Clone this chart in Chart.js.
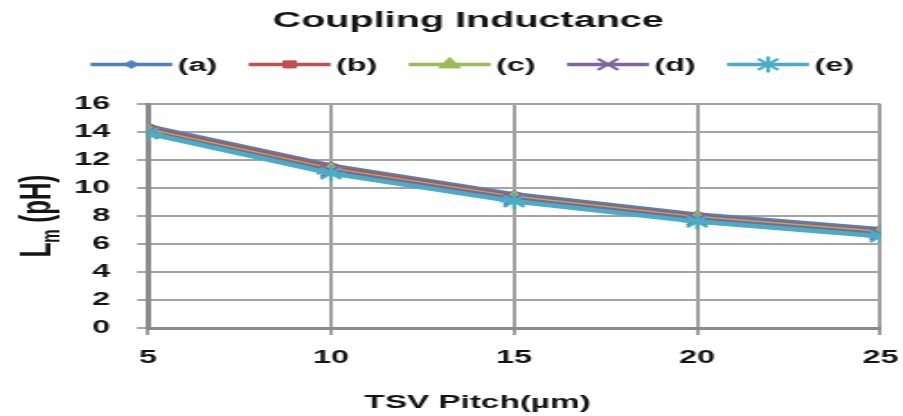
<!DOCTYPE html>
<html>
<head>
<meta charset="utf-8">
<script src="https://cdn.jsdelivr.net/npm/chart.js@4.4.1/dist/chart.umd.min.js"></script>
<style>
  html, body { margin: 0; padding: 0; background: #fff; overflow: hidden; }
  #c { display: block; width: 903px; height: 416px; }
</style>
</head>
<body>
<canvas id="c" width="502" height="416" style="width:903px;height:416px"></canvas>
<script>
// TSV pitch (µm) on the x axis
const pitch = [5, 10, 15, 20, 25];

// Coupling inductance Lm (pH) for each structure
const seriesA = [14.4, 11.6, 9.55, 8.1, 7.05];
const seriesB = [14.25, 11.45, 9.4, 7.95, 6.9];
const seriesC = [14.1, 11.3, 9.3, 7.85, 6.8];
const seriesD = [14.0, 11.2, 9.2, 7.75, 6.7];
const seriesE = [13.9, 11.05, 9.05, 7.6, 6.55];

const seriesNames = ['(a)', '(b)', '(c)', '(d)', '(e)'];
const xTicks = [5, 10, 15, 20, 25];
const yTicks = [0, 2, 4, 6, 8, 10, 12, 14, 16];

const chartTitle = 'Coupling Inductance';
const xTitle = 'TSV Pitch(\u00b5m)';

// styling
const colors = ['#4F81BD', '#C0504D', '#9BBB59', '#8064A2', '#4BACC6'];
const markers = ['rectRot', 'rect', 'triangle', 'crossRot', 'star'];
const markerRadius = [4, 5, 7, 8, 8];
const markerBorder = [1, 1, 1, 2.2, 2.2];
const FONT = "'Liberation Sans', Arial, sans-serif";
const INK = '#141414';

const allSeries = [seriesA, seriesB, seriesC, seriesD, seriesE];

const datasets = allSeries.map((vals, i) => ({
  label: seriesNames[i],
  data: vals.map((v, k) => ({ x: pitch[k], y: v })),
  borderColor: colors[i],
  backgroundColor: colors[i],
  borderWidth: 4.5,
  pointStyle: markers[i],
  pointRadius: markerRadius[i],
  pointBorderWidth: markerBorder[i],
  pointBackgroundColor: colors[i],
  pointBorderColor: colors[i],
  tension: 0,
  order: allSeries.length - i   // later series sit on top
}));

function capText(ctx, text, x, capCenterY, size, align) {
  ctx.font = 'bold ' + size + 'px ' + FONT;
  ctx.textAlign = align || 'center';
  ctx.textBaseline = 'alphabetic';
  ctx.fillText(text, x, capCenterY + 0.716 * size / 2);
}

function drawMarker(ctx, i, x, y) {
  ctx.save();
  ctx.fillStyle = colors[i];
  ctx.strokeStyle = colors[i];
  ctx.lineWidth = markerBorder[i];
  if (Chart.helpers && Chart.helpers.drawPoint) {
    Chart.helpers.drawPoint(ctx, {
      pointStyle: markers[i], rotation: 0,
      radius: markerRadius[i], borderWidth: markerBorder[i]
    }, x, y);
  } else {
    ctx.beginPath(); ctx.arc(x, y, markerRadius[i] * 0.7, 0, Math.PI * 2); ctx.fill();
  }
  ctx.restore();
}

const annotations = {
  id: 'annotations',
  afterDraw(chart) {
    const ctx = chart.ctx;
    const area = chart.chartArea;
    ctx.save();
    ctx.fillStyle = INK;

    // chart title
    capText(ctx, chartTitle, 260.3, 18.7, 22);

    // legend row: line, marker, label
    const lineLen = 45.5, textGap = 3, itemGap = 17.5, legY = 64.4;
    ctx.font = 'bold 18px ' + FONT;
    const widths = seriesNames.map(n => ctx.measureText(n).width);
    let total = 0;
    widths.forEach((w, i) => { total += lineLen + textGap + w + (i < widths.length - 1 ? itemGap : 0); });
    let x = 262.5 - total / 2;
    seriesNames.forEach((n, i) => {
      ctx.save();
      ctx.strokeStyle = colors[i];
      ctx.lineWidth = 3.5;
      ctx.beginPath();
      ctx.moveTo(x, legY);
      ctx.lineTo(x + lineLen, legY);
      ctx.stroke();
      ctx.restore();
      drawMarker(ctx, i, x + lineLen / 2, legY);
      ctx.fillStyle = INK;
      capText(ctx, n, x + lineLen + textGap, legY, 18, 'left');
      x += lineLen + textGap + widths[i] + itemGap;
    });

    // x axis title
    capText(ctx, xTitle, 265.5, 401, 18.5);

    // y axis title: L with subscript m, then (pH), rotated
    const big = 24, small = 15;
    ctx.font = 'bold ' + big + 'px ' + FONT;
    const wL = ctx.measureText('L').width;
    const wRest = ctx.measureText(' (pH)').width;
    ctx.font = 'bold ' + small + 'px ' + FONT;
    const wM = ctx.measureText('m').width;
    const len = wL + wM + wRest;
    const cy = (area.top + area.bottom) / 2;
    ctx.translate(27.8, cy + len / 2);
    ctx.rotate(-Math.PI / 2);
    ctx.textAlign = 'left';
    ctx.textBaseline = 'alphabetic';
    ctx.font = 'bold ' + big + 'px ' + FONT;
    ctx.fillText('L', 0, 0);
    ctx.font = 'bold ' + small + 'px ' + FONT;
    ctx.fillText('m', wL, 5);
    ctx.font = 'bold ' + big + 'px ' + FONT;
    ctx.fillText(' (pH)', wL + wM, 0);
    ctx.restore();
  }
};

new Chart(document.getElementById('c'), {
  type: 'line',
  data: { datasets },
  plugins: [annotations],
  options: {
    responsive: false,
    devicePixelRatio: 1,
    animation: false,
    events: [],
    layout: { padding: { top: 104, right: 12.6, bottom: 0, left: 0 } },
    plugins: {
      legend: { display: false },
      title: { display: false },
      tooltip: { enabled: false }
    },
    scales: {
      x: {
        type: 'linear',
        min: 5,
        max: 25,
        afterBuildTicks: s => { s.ticks = xTicks.map(v => ({ value: v })); },
        afterFit: s => { s.height = 88; s.paddingLeft = 0; s.paddingRight = 0; },
        grid: { color: '#9e9e9e', lineWidth: 2, tickLength: 7, drawTicks: true },
        border: { color: '#8a8a8a', width: 3 },
        ticks: {
          padding: 12,
          color: INK,
          font: { family: FONT, size: 18, weight: 'bold' },
          maxRotation: 0
        }
      },
      y: {
        min: 0,
        max: 16,
        afterBuildTicks: s => { s.ticks = yTicks.map(v => ({ value: v })); },
        afterFit: s => { s.width = 82.2; },
        grid: { color: '#a4a4a4', lineWidth: 2, tickLength: 6, drawTicks: true },
        border: { color: '#8a8a8a', width: 3 },
        ticks: {
          padding: 15,
          color: INK,
          font: { family: FONT, size: 18, weight: 'bold' }
        }
      }
    }
  }
});
</script>
</body>
</html>
